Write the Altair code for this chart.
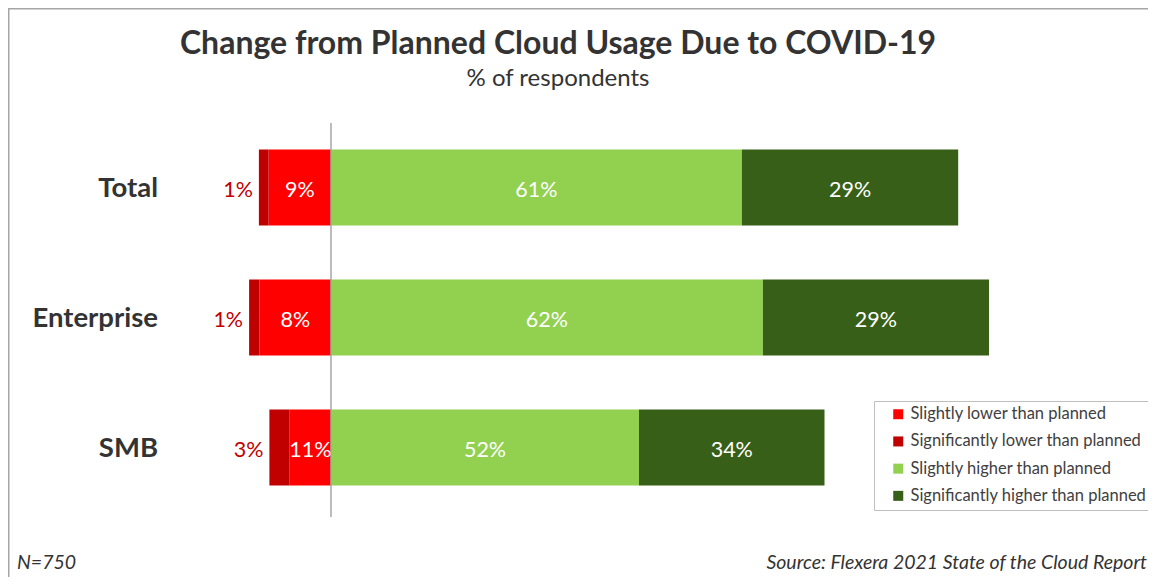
import altair as alt
import pandas as pd

# ---- data ----
categories = ["Total", "Enterprise", "SMB"]
segment_names = [
    "Slightly lower than planned",
    "Significantly lower than planned",
    "Slightly higher than planned",
    "Significantly higher than planned",
]
segment_colors = ["#FF0000", "#C00000", "#92D050", "#375F17"]

# bar lengths as drawn in the picture (percentage units)
sig_lower_len = [1.4, 1.5, 2.9]
sli_lower_len = [8.9, 10.2, 5.9]
sli_higher_len = [58.7, 61.7, 44.0]
sig_higher_len = [30.9, 32.3, 26.5]

# printed labels
sig_lower_pct = [1, 1, 3]
sli_lower_pct = [9, 8, 11]
sli_higher_pct = [61, 62, 52]
sig_higher_pct = [29, 29, 34]

title_text = "Change from Planned Cloud Usage Due to COVID-19"
subtitle_text = "% of respondents"
note_text = "N=750"
source_text = "Source: Flexera 2021 State of the Cloud Report"

FONT = "Lato"
W, H = 1140, 569

rows = []
for i, c in enumerate(categories):
    a = -sli_lower_len[i]
    b = a - sig_lower_len[i]
    h1 = sli_higher_len[i]
    h2 = h1 + sig_higher_len[i]
    rows.append(dict(cat=c, seg=segment_names[1], x0=b, x1=a, mid=(a + b) / 2,
                     label=f"{sig_lower_pct[i]}%", inside=False))
    rows.append(dict(cat=c, seg=segment_names[0], x0=a, x1=0.0, mid=a / 2,
                     label=f"{sli_lower_pct[i]}%", inside=True))
    rows.append(dict(cat=c, seg=segment_names[2], x0=0.0, x1=h1, mid=h1 / 2,
                     label=f"{sli_higher_pct[i]}%", inside=True))
    rows.append(dict(cat=c, seg=segment_names[3], x0=h1, x1=h2, mid=(h1 + h2) / 2,
                     label=f"{sig_higher_pct[i]}%", inside=True))
df = pd.DataFrame(rows)
df_in = df[df["inside"]]
df_out = df[~df["inside"]]

PX_PER_UNIT = 7.0
ZERO_PX = 323.0
xscale = alt.Scale(domain=[-ZERO_PX / PX_PER_UNIT, (W - ZERO_PX) / PX_PER_UNIT], nice=False, zero=False)
yscale = alt.Scale(domain=categories, range=[114.5, 504.5], paddingInner=0.4154, paddingOuter=0.2077)
Y = alt.Y("cat:N", sort=categories, scale=yscale, axis=None)

bars = alt.Chart(df).mark_bar().encode(
    x=alt.X("x0:Q", scale=xscale, axis=None),
    x2="x1:Q",
    y=Y,
    color=alt.Color(
        "seg:N",
        scale=alt.Scale(domain=segment_names, range=segment_colors),
        legend=alt.Legend(
            orient="none", legendX=866, legendY=393, title=None, direction="vertical",
            symbolType="square", symbolSize=100, symbolStrokeWidth=0, symbolOffset=11,
            symbolOpacity=1, labelFont=FONT, labelFontSize=16.5, labelColor="#404040",
            rowPadding=10.2, padding=5, strokeColor="#BFBFBF", fillColor="white",
            labelOffset=4, labelLimit=400,
        ),
    ),
)

inner = alt.Chart(df_in).mark_text(
    font=FONT, fontSize=21.5, color="white", align="center", baseline="alphabetic", dy=9.5
).encode(x=alt.X("mid:Q", scale=xscale, axis=None), y=Y, text="label:N")

outer = alt.Chart(df_out).mark_text(
    font=FONT, fontSize=21.5, color="#C00000", align="right", baseline="alphabetic", dy=9.5, dx=-6
).encode(x=alt.X("x0:Q", scale=xscale, axis=None), y=Y, text="label:N")

cat_labels = alt.Chart(pd.DataFrame({"cat": categories})).mark_text(
    font=FONT, fontSize=27.5, fontWeight="bold", color="#333333", align="right",
    baseline="alphabetic", dy=9.5
).encode(x=alt.value(150), y=Y, text="cat:N")

zero_rule = alt.Chart(pd.DataFrame({"z": [0]})).mark_rule(color="#A6A6A6", strokeWidth=1.5).encode(
    x=alt.X("z:Q", scale=xscale, axis=None), y=alt.value(115), y2=alt.value(509)
)

frame_top = alt.Chart(pd.DataFrame({"z": [0]})).mark_rule(color="#A6A6A6", strokeWidth=1.5).encode(
    x=alt.value(0), x2=alt.value(W), y=alt.value(0.75)
)
frame_left = alt.Chart(pd.DataFrame({"z": [0]})).mark_rule(color="#A6A6A6", strokeWidth=1.5).encode(
    x=alt.value(0.75), y=alt.value(0), y2=alt.value(H)
)


def static_text(txt, x, y, **kw):
    return alt.Chart(pd.DataFrame({"t": [txt]})).mark_text(font=FONT, baseline="alphabetic", **kw).encode(
        x=alt.value(x), y=alt.value(y), text="t:N"
    )


title = static_text(title_text, 550, 46, fontSize=32, fontWeight="bold", color="#333333", align="center")
subtitle = static_text(subtitle_text, 550, 78, fontSize=24, color="#333333", align="center")
note = static_text(note_text, 9, 561, fontSize=19.5, fontStyle="italic", color="#333333", align="left")
source = static_text(source_text, 1139, 561, fontSize=19.5, fontStyle="italic", color="#333333", align="right")

chart = alt.layer(
    frame_top, frame_left, bars, zero_rule, inner, outer, cat_labels, title, subtitle, note, source
).properties(
    width=W, height=H, padding=0, autosize=alt.AutoSizeParams(type="none")
).configure_view(strokeWidth=0)

chart.save("out.html", embed_options={"renderer": "svg", "actions": False})
